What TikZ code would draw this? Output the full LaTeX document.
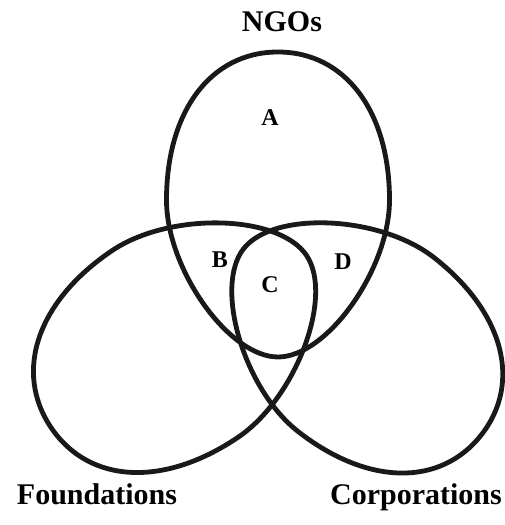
\documentclass[tikz,border=0pt]{standalone}
\usepackage{fontspec}
\setmainfont{Liberation Serif}
\newcommand{\eggshape}{(0,148) .. controls (67,148) and (111.5,89) .. (111.5,0)
  .. controls (111.5,-69.1) and (49.1,-157) .. (0,-157)
  .. controls (-49.1,-157) and (-111.5,-69.1) .. (-111.5,0)
  .. controls (-111.5,89) and (-67,148) .. (0,148) -- cycle}
\tikzset{
  egg/.style={draw=black!90, line width=4.8pt},
  setname/.style={font=\fontsize{30}{36}\selectfont\bfseries, anchor=base, inner sep=0pt},
  region/.style={font=\fontsize{24}{28}\selectfont\bfseries, inner sep=0pt}
}
\begin{document}
\begin{tikzpicture}[x=1pt,y=1pt]
\useasboundingbox (0,0) rectangle (505,525);
\begin{scope}[shift={(278,325)}]
  \draw[egg] \eggshape;
\end{scope}
\begin{scope}[shift={(175,181)}, rotate=124, scale=1.01]
  \draw[egg] \eggshape;
\end{scope}
\begin{scope}[shift={(366,180.5)}, rotate=-128, scale=0.99]
  \draw[egg] \eggshape;
\end{scope}
\node[setname] (ngo) at (282,493) {NGOs};
\node[setname] (fnd) at (97,20) {Foundations};
\node[setname] (corp) at (416,20) {Corporations};
\node[region] (A) at (270,407) {A};
\node[region] (B) at (220,265) {B};
\node[region] (C) at (270,240) {C};
\node[region] (D) at (343,263) {D};
\end{tikzpicture}
\end{document}
